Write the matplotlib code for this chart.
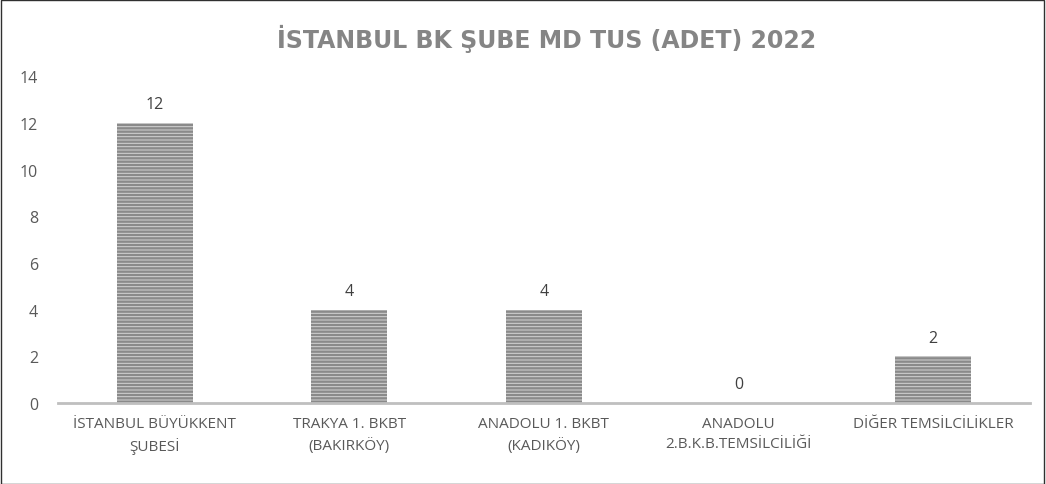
import matplotlib.pyplot as plt
from matplotlib.patches import Rectangle

plt.rcParams['font.family'] = ['Open Sans', 'DejaVu Sans']
plt.rcParams['hatch.linewidth'] = 1.7
plt.rcParams['hatch.color'] = '#8a8a8a'

# data
categories = ["İSTANBUL BÜYÜKKENT\nŞUBESİ", "TRAKYA 1. BKBT\n(BAKIRKÖY)", "ANADOLU 1. BKBT\n(KADIKÖY)",
              "ANADOLU\n2.B.K.B.TEMSİLCİLİĞİ", "DİĞER TEMSİLCİLİKLER"]
values = [12, 4, 4, 0, 2]
yticks = [0, 2, 4, 6, 8, 10, 12, 14]
title = "İSTANBUL BK ŞUBE MD TUS (ADET) 2022"

fig = plt.figure(figsize=(10.46, 4.85), dpi=100)
ax = fig.add_axes([0.055, 0.167, 0.93, 0.674])

x = range(len(categories))
bars = ax.bar(x, values, width=0.39, color='#d4d4d4', edgecolor='#8a8a8a', linewidth=0, hatch='-----')

for xi, v in zip(x, values):
    ax.text(xi, v + 0.45, str(v), ha='center', va='bottom', fontsize=11.5, color='#404040')

ax.set_xlim(-0.5, 4.5)
ax.set_ylim(0, 14)
ax.set_yticks(yticks)
ax.set_xticks(list(x))
ax.set_xticklabels(categories, fontsize=11, color='#595959', linespacing=1.5)
ax.tick_params(axis='y', labelsize=11.5, labelcolor='#595959', length=0, pad=14)
ax.tick_params(axis='x', length=0, pad=9)

for s in ['top', 'right', 'left']:
    ax.spines[s].set_visible(False)
ax.spines['bottom'].set_color('#bfbfbf')
ax.spines['bottom'].set_linewidth(2)

fig.text(0.523, 0.92, title, ha='center', va='center',
         fontsize=17, fontweight='bold', color='#858585', family=['DejaVu Sans'])

# outer border
fig.add_artist(Rectangle((0.0005, 0.001), 0.998, 0.997, transform=fig.transFigure,
                         fill=False, edgecolor='#303030', linewidth=1))

fig.savefig("out.png", dpi=100)
